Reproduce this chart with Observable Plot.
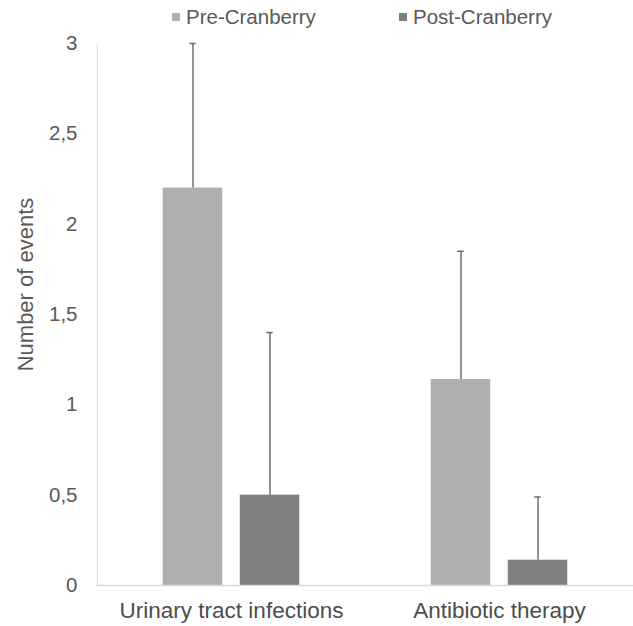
<!DOCTYPE html>
<html>
<head>
<meta charset="utf-8">
<script src="https://cdn.jsdelivr.net/npm/d3@7"></script>
<script src="https://cdn.jsdelivr.net/npm/@observablehq/plot@0.6"></script>
<style>
  html, body { margin: 0; padding: 0; background: #fff; }
  #wrap { position: relative; width: 633px; height: 626px; font-family: "Liberation Sans", Arial, sans-serif; }
  .leg { position: absolute; top: 5px; font-size: 20.5px; color: #595959; line-height: 24px; white-space: nowrap; }
  .leg i { display: inline-block; width: 8px; height: 8px; margin-right: 6px; vertical-align: 3px; }
  #chart { position: absolute; left: 0; top: 0; }
</style>
</head>
<body>
<div id="wrap">
  <div id="chart"></div>
  <div id="legend"></div>
</div>
<script>
const categories = ["Urinary tract infections", "Antibiotic therapy"];
const series = ["Pre-Cranberry", "Post-Cranberry"];
const preValues = [2.2, 1.14];
const preSD = [0.8, 0.71];
const postValues = [0.5, 0.14];
const postSD = [0.9, 0.35];
const yTicks = [0, 0.5, 1, 1.5, 2, 2.5, 3];
const colors = ["#afafaf", "#7f7f7f"];

const pre = categories.map((c, i) => ({category: c, value: preValues[i], hi: preValues[i] + preSD[i]}));
const post = categories.map((c, i) => ({category: c, value: postValues[i], hi: postValues[i] + postSD[i]}));

const W = 633, H = 626, mL = 96, mR = 0;
const bw = (W - mL - mR) / categories.length;
const barW = 60, off = 38.5, capW = 7;
const barInset = (bw - barW) / 2;
const capInset = (bw - capW) / 2;
const errColor = "#6e6e6e";

const chart = Plot.plot({
  width: W,
  height: H,
  marginLeft: mL,
  marginRight: mR,
  marginTop: 43,
  marginBottom: 41,
  style: {fontFamily: "'Liberation Sans', Arial, sans-serif", fontSize: "20.5px", color: "#595959", background: "#fff"},
  x: {domain: categories, padding: 0, label: null, tickSize: 0, tickPadding: 17},
  y: {domain: [0, 3], ticks: yTicks, tickFormat: d => String(d).replace(".", ","), tickSize: 0, tickPadding: 19, label: null},
  marks: [
    Plot.ruleX([categories[0]], {x: d => d, dx: -bw / 2, y1: 0, y2: 3, stroke: "#d9d9d9", strokeWidth: 1}),
    Plot.barY(pre, {x: "category", y: "value", fill: colors[0], dx: -off, insetLeft: barInset, insetRight: barInset}),
    Plot.barY(post, {x: "category", y: "value", fill: colors[1], dx: off, insetLeft: barInset, insetRight: barInset}),
    Plot.ruleY([0], {stroke: "#d9d9d9", strokeWidth: 1.5}),
    Plot.ruleX(pre, {x: "category", y1: "value", y2: "hi", dx: -off, stroke: errColor, strokeWidth: 1.5}),
    Plot.ruleX(post, {x: "category", y1: "value", y2: "hi", dx: off, stroke: errColor, strokeWidth: 1.5}),
    Plot.tickY(pre, {x: "category", y: "hi", dx: -off, insetLeft: capInset, insetRight: capInset, stroke: errColor, strokeWidth: 1.5}),
    Plot.tickY(post, {x: "category", y: "hi", dx: off, insetLeft: capInset, insetRight: capInset, stroke: errColor, strokeWidth: 1.5}),
    Plot.text(["Number of events"], {frameAnchor: "left", textAnchor: "middle", text: d => d, rotate: -90, dx: -71, dy: -30, fontSize: 22, fill: "#595959"})
  ]
});
chart.querySelectorAll('[aria-label="x-axis tick label"] text, [aria-label="x-axis"] text').forEach(t => { t.style.fontSize = "22.5px"; t.style.fill = "#4d4d4d"; });
document.getElementById("chart").appendChild(chart);

const legend = document.getElementById("legend");
const legLeft = [172, 399];
series.forEach((s, i) => {
  const d = document.createElement("div");
  d.className = "leg";
  d.style.left = legLeft[i] + "px";
  d.innerHTML = `<i style="background:${colors[i]}"></i>${s}`;
  legend.appendChild(d);
});
</script>
</body>
</html>
